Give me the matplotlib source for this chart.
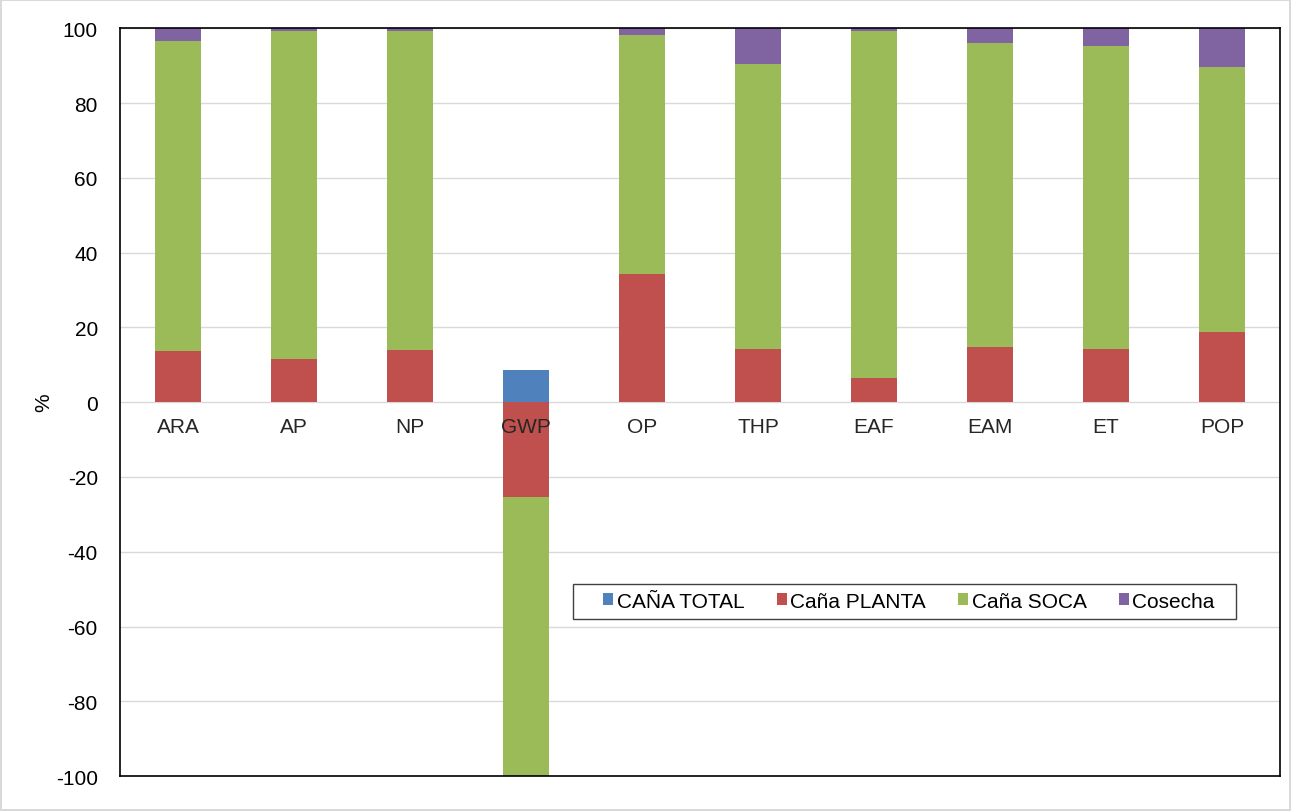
import numpy as np
import matplotlib
matplotlib.use("Agg")
import matplotlib.pyplot as plt
from matplotlib.patches import Rectangle
from matplotlib.transforms import offset_copy

plt.rcParams['font.family'] = ['Liberation Sans', 'DejaVu Sans']
plt.rcParams['axes.unicode_minus'] = False

categories = ['ARA', 'AP', 'NP', 'GWP', 'OP', 'THP', 'EAF', 'EAM', 'ET', 'POP']
cana_total = [0, 0, 0, 8.6, 0, 0, 0, 0, 0, 0]
cana_planta = [13.6, 11.5, 13.9, -25.4, 34.2, 14.2, 6.4, 14.7, 14.2, 18.7]
cana_soca = [82.9, 87.7, 85.3, -74.6, 63.9, 76.2, 92.8, 81.3, 81.0, 70.9]
cosecha = [3.5, 0.8, 0.8, 0, 1.9, 9.6, 0.8, 4.0, 4.8, 10.4]

series = [
    ('CAÑA TOTAL', cana_total, '#4F81BD'),
    ('Caña PLANTA', cana_planta, '#C0504D'),
    ('Caña SOCA', cana_soca, '#9BBB59'),
    ('Cosecha', cosecha, '#8064A2'),
]

fig = plt.figure(figsize=(12.91, 8.12), dpi=100)
fig.patch.set_edgecolor('#d9d9d9')
fig.patch.set_linewidth(1.5)
ax = fig.add_axes([0.093, 0.043, 0.8985, 0.921])

x = np.arange(len(categories))
pos_bottom = np.zeros(len(categories))
neg_bottom = np.zeros(len(categories))
for name, vals, col in series:
    v = np.array(vals, dtype=float)
    bottom = np.where(v >= 0, pos_bottom, neg_bottom)
    ax.bar(x, v, 0.4, bottom=bottom, color=col, label=name, zorder=2)
    pos_bottom += np.where(v >= 0, v, 0)
    neg_bottom += np.where(v < 0, v, 0)

ax.set_xlim(-0.5, len(categories) - 0.5)
ax.set_ylim(-100, 100)
ax.set_yticks(np.arange(-100, 101, 20))
ax.tick_params(axis='y', labelsize=15, length=0, pad=16)
ax.set_xticks([])
ax.grid(axis='y', color='#d9d9d9', linewidth=1, zorder=0)
for s in ax.spines.values():
    s.set_color('black')
    s.set_linewidth(1.2)
ax.set_ylabel('%', fontsize=15, labelpad=2)

# category labels sit on the zero line, like Excel
lab_tr = offset_copy(ax.transData, fig=fig, y=-11, units='points')
for i, c in enumerate(categories):
    ax.text(x[i], 0, c, transform=lab_tr, ha='center', va='top',
            fontsize=15, color='#262626', zorder=5)

# legend box is wider than the entries, draw it separately
ax.add_patch(Rectangle((0.3905, 0.210), 0.5715, 0.047, transform=ax.transAxes,
                       facecolor='white', edgecolor='#404040', linewidth=1,
                       zorder=4))
leg = ax.legend(loc='center', bbox_to_anchor=(0.68, 0.234), ncol=4, fontsize=15,
                frameon=False, handlelength=0.5, handleheight=0.5,
                handletextpad=0.15, columnspacing=1.55, borderpad=0.45)
leg.set_zorder(6)

fig.savefig('out.png', dpi=100)
